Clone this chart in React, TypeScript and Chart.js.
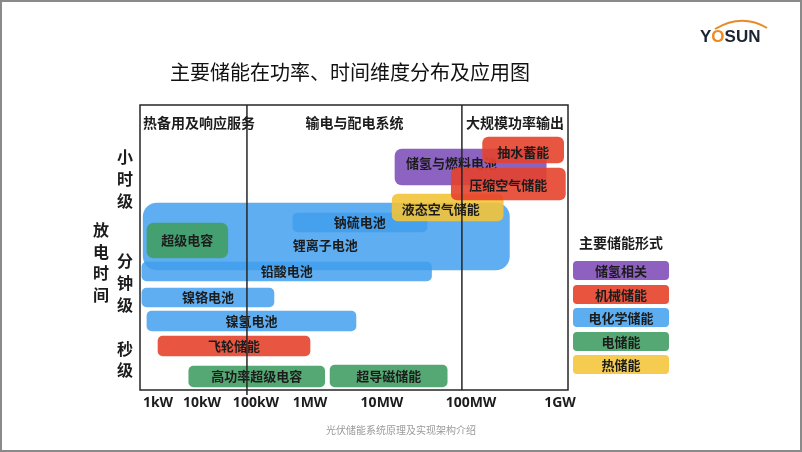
import React, { useEffect, useRef } from 'react';
import { Chart, registerables, LinearScale } from 'chart.js';

// ---------------- data ----------------
// power axis (kW) decades and labels
const POWER_TICKS = [1, 10, 100, 1000, 1e4, 1e5, 1e6];
const POWER_TICK_LABELS = ['1kW', '10kW', '100kW', '1MW', '10MW', '100MW', '1GW'];
// discharge-time levels (arbitrary level units) and labels
const TIME_TICKS = [3.05, 10.7, 21.1];
const TIME_TICK_LABELS = [['秒', '级'], ['分', '钟', '级'], ['小', '时', '级']];
// application zones (boundaries in kW)
const ZONE_BOUNDS = [68, 79000];
const ZONE_LABELS = ['热备用及响应服务', '输电与配电系统', '大规模功率输出'];
// storage forms (legend)
const FORM_NAMES = ['储氢相关', '机械储能', '电化学储能', '电储能', '热储能'];
// technologies, listed bottom layer -> top layer
const TECH_NAMES = ['锂离子电池', '钠硫电池', '超级电容', '铅酸电池', '镍铬电池', '镍氢电池', '飞轮储能', '高功率超级电容', '超导磁储能', '储氢与燃料电池', '液态空气储能', '抽水蓄能', '压缩空气储能'];
const POWER_MIN = [0.46, 480, 0.56, 0.43, 0.43, 0.56, 1, 5, 1900, 14000, 13000, 135000, 60000];
const POWER_MAX = [270000, 32000, 30, 36000, 215, 4350, 1000, 1600, 54000, 700000, 230000, 1100000, 1150000];
const TIME_LEVEL = [15.35, 16.75, 14.95, 11.85, 9.25, 6.9, 4.4, 1.35, 1.4, 22.3, 18.25, 24.0, 20.6];
const TECH_FORM = [2, 2, 3, 2, 2, 2, 1, 3, 3, 0, 4, 1, 1];

// ---------------- styles / layout ----------------
const FORM_COLORS = ['rgba(128,82,186,0.9)', 'rgba(229,66,44,0.9)', 'rgba(66,160,238,0.85)', 'rgba(66,158,100,0.9)', 'rgba(243,196,56,0.9)'];
const FORM_SWATCH = ['rgb(142,97,193)', 'rgb(232,84,62)', 'rgb(92,174,240)', 'rgb(85,168,115)', 'rgb(245,204,80)'];
const BAR_HEIGHT = [67, 19, 35, 19, 19, 20, 20, 21, 22, 36, 27, 26, 32];
const BAR_RADIUS = [14, 5, 7, 5, 5, 5, 5, 5, 5, 7, 6, 6, 6];
const LABEL_SHIFT = [[-1, 8.5], [0, 0], [0, 0], [0, 0], [0, 0], [0, 0], [0, 0], [0, 0], [0, 0], [-19, -4], [-7, 1.5], [0, 2], [0, 1]];
// where each decade tick sits along the axis width
const DECADE_FRACTION = [0.0421, 0.1449, 0.271, 0.3972, 0.5654, 0.7734, 0.9813];
const CJK = "'Noto Sans CJK SC', 'Noto Sans', sans-serif";
const LATIN = "'Noto Sans', 'Noto Sans CJK SC', sans-serif";
const INK = '#1c1c1c';

class PowerScale extends LinearScale {
  static id = 'powerdecade';
  getPixelForValue(value: number) {
    if (value == null || !(value > 0)) return NaN;
    const l = Math.log10(value);
    const n = DECADE_FRACTION.length;
    let i = Math.floor(l);
    if (i < 0) i = 0;
    if (i > n - 2) i = n - 2;
    const f = DECADE_FRACTION[i] + (l - i) * (DECADE_FRACTION[i + 1] - DECADE_FRACTION[i]);
    return (this as any).left + f * (this as any).width;
  }
  getValueForPixel(pixel: number) {
    const f = (pixel - (this as any).left) / (this as any).width;
    const n = DECADE_FRACTION.length;
    let i = 0;
    while (i < n - 2 && f > DECADE_FRACTION[i + 1]) i++;
    const l = i + (f - DECADE_FRACTION[i]) / (DECADE_FRACTION[i + 1] - DECADE_FRACTION[i]);
    return Math.pow(10, l);
  }
}

Chart.register(...registerables, PowerScale as any);

const barLabelPlugin = {
  id: 'barLabels',
  afterDatasetDraw(chart: any, args: any) {
    const i = args.index;
    const el = args.meta.data[0];
    if (!el) return;
    const { x, base, y } = el.getProps(['x', 'base', 'y'], true);
    const ctx = chart.ctx;
    ctx.save();
    ctx.font = `bold 13px ${CJK}`;
    ctx.fillStyle = INK;
    ctx.textAlign = 'center';
    ctx.textBaseline = 'middle';
    ctx.fillText(TECH_NAMES[i], (x + base) / 2 + LABEL_SHIFT[i][0], y + LABEL_SHIFT[i][1]);
    ctx.restore();
  },
};

const framePlugin = {
  id: 'frame',
  afterDatasetsDraw(chart: any) {
    const { ctx, chartArea } = chart;
    const xs = chart.scales.x;
    const { left, right, top, bottom } = chartArea;
    ctx.save();
    ctx.strokeStyle = '#262626';
    ctx.lineWidth = 1.5;
    ctx.strokeRect(left, top, right - left, bottom - top);
    const px = ZONE_BOUNDS.map((b) => xs.getPixelForValue(b));
    px.forEach((p, k) => {
      ctx.beginPath();
      ctx.moveTo(p, top);
      ctx.lineTo(p, bottom + (k === 0 ? 5 : 0));
      ctx.stroke();
    });
    ctx.font = `bold 14px ${CJK}`;
    ctx.fillStyle = INK;
    ctx.textBaseline = 'middle';
    const edges = [left, ...px, right];
    ZONE_LABELS.forEach((t, k) => {
      if (k === 0) {
        ctx.textAlign = 'left';
        ctx.fillText(t, left + 3, top + 17.5);
      } else {
        ctx.textAlign = 'center';
        ctx.fillText(t, (edges[k] + edges[k + 1]) / 2, top + 17.5);
      }
    });
    ctx.restore();
  },
};

function ChartCanvas() {
  const ref = useRef<HTMLCanvasElement | null>(null);
  useEffect(() => {
    if (!ref.current) return;
    const datasets = TECH_NAMES.map((name, i) => ({
      label: name,
      data: [{ x: [POWER_MIN[i], POWER_MAX[i]], y: TIME_LEVEL[i] }],
      backgroundColor: FORM_COLORS[TECH_FORM[i]],
      borderWidth: 0,
      borderRadius: BAR_RADIUS[i],
      borderSkipped: false,
      barThickness: BAR_HEIGHT[i],
      grouped: false,
      order: -i,
    }));
    const chart = new Chart(ref.current, {
      type: 'bar',
      data: { datasets } as any,
      options: {
        indexAxis: 'y',
        animation: false,
        responsive: false,
        devicePixelRatio: 1,
        events: [],
        layout: { padding: { left: 0, top: 105, right: 234, bottom: 0 } },
        plugins: { legend: { display: false }, tooltip: { enabled: false } },
        scales: {
          x: {
            type: 'powerdecade',
            min: 0.39,
            max: 1230000,
            offset: false,
            grid: { display: false, drawTicks: false },
            border: { display: false },
            afterFit: (s: any) => { s.height = 62; },
            afterBuildTicks: (s: any) => { s.ticks = POWER_TICKS.map((v) => ({ value: v })); },
            ticks: {
              autoSkip: false,
              maxRotation: 0,
              padding: 5,
              color: INK,
              font: { family: LATIN, size: 14, weight: 'bold' },
              callback: (_v: any, i: number) => POWER_TICK_LABELS[i],
            },
          },
          y: {
            type: 'linear',
            min: 0,
            max: 28.5,
            offset: false,
            grace: 0,
            grid: { display: false, drawTicks: false },
            border: { display: false },
            afterFit: (s: any) => { s.width = 140; },
            afterBuildTicks: (s: any) => { s.ticks = TIME_TICKS.map((v) => ({ value: v })); },
            ticks: {
              autoSkip: false,
              padding: 7,
              color: INK,
              font: { family: CJK, size: 16, weight: 'bold', lineHeight: 1.35 },
              callback: (_v: any, i: number) => TIME_TICK_LABELS[i],
            },
          },
        },
      } as any,
      plugins: [barLabelPlugin, framePlugin],
    });
    return () => chart.destroy();
  }, []);
  return <canvas ref={ref} width={802} height={452} style={{ position: 'absolute', left: 0, top: 0, width: 802, height: 452 }} />;
}

export default function App() {
  return (
    <div style={{ position: 'fixed', left: 0, top: 0, width: 802, height: 452, background: '#fff', overflow: 'hidden', fontFamily: CJK }}>
      <ChartCanvas />
      {/* title */}
      <div style={{ position: 'absolute', left: 170, top: 59, height: 26, lineHeight: '26px', fontSize: 20, color: '#111', whiteSpace: 'nowrap' }}>
        主要储能在功率、时间维度分布及应用图
      </div>
      {/* y-axis title */}
      <div style={{ position: 'absolute', left: 93, top: 219, width: 16, fontSize: 16, fontWeight: 700, color: INK, lineHeight: '21.7px', textAlign: 'center' }}>
        {'放电时间'.split('').map((c, k) => (<div key={k}>{c}</div>))}
      </div>
      {/* legend */}
      <div style={{ position: 'absolute', left: 573, top: 231, width: 96, height: 22, lineHeight: '22px', fontSize: 14, fontWeight: 700, color: INK, textAlign: 'center', whiteSpace: 'nowrap' }}>
        主要储能形式
      </div>
      {FORM_NAMES.map((n, k) => (
        <div key={n} style={{ position: 'absolute', left: 573, top: 261 + k * 23.5, width: 96, height: 19, lineHeight: '19px', borderRadius: 4, background: FORM_SWATCH[k], fontSize: 13, fontWeight: 700, color: INK, textAlign: 'center', whiteSpace: 'nowrap' }}>
          {n}
        </div>
      ))}
      {/* logo */}
      <svg style={{ position: 'absolute', left: 700, top: 15 }} width={80} height={16}>
        <path d="M 15 14 Q 42 -2 67 13" stroke="#e8892a" strokeWidth={2} fill="none" />
      </svg>
      <div style={{ position: 'absolute', left: 700, top: 27, height: 20, lineHeight: '20px', fontSize: 17, fontWeight: 900, fontFamily: "'Liberation Sans', Arial, sans-serif", color: '#1b2433', whiteSpace: 'nowrap' }}>
        Y<span style={{ color: '#ef8a1e' }}>O</span>SUN
      </div>
      {/* footer */}
      <div style={{ position: 'absolute', left: 0, top: 423, width: 802, textAlign: 'center', fontSize: 10, lineHeight: '14px', color: '#9a9a9a' }}>
        光伏储能系统原理及实现架构介绍
      </div>
      {/* slide border */}
      <div style={{ position: 'absolute', left: 0, top: 0, width: 802, height: 452, boxSizing: 'border-box', border: '2px solid #8a8a8a', pointerEvents: 'none' }} />
    </div>
  );
}
